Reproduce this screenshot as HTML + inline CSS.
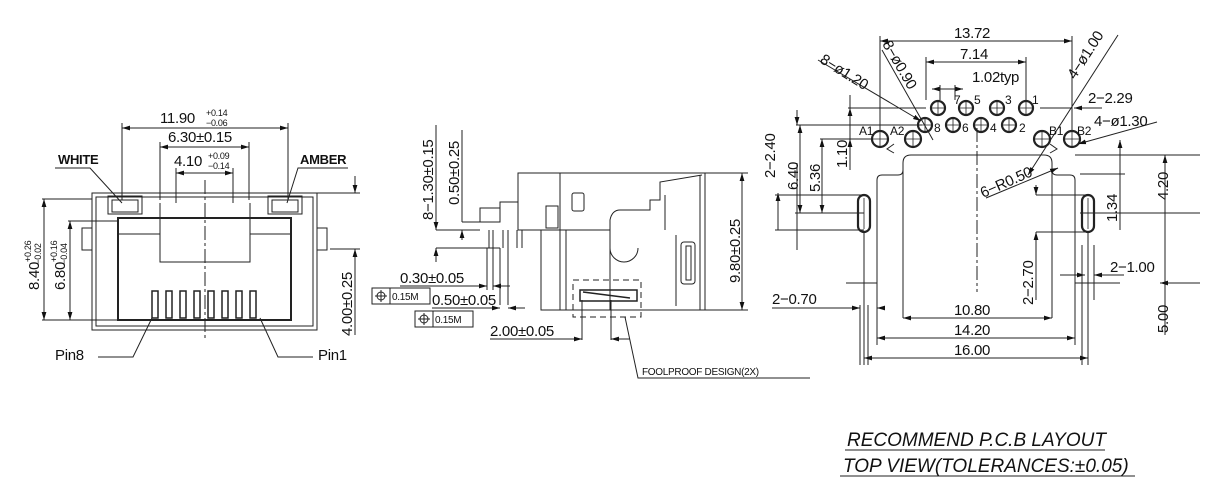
<!DOCTYPE html>
<html><head><meta charset="utf-8"><style>
html,body{margin:0;padding:0;background:#fff;}
svg{display:block;}
text{font-family:"Liberation Sans",sans-serif;fill:#111;}
</style></head><body>
<svg width="1206" height="488" viewBox="0 0 1206 488" xmlns="http://www.w3.org/2000/svg">
<defs>
<marker id="a" viewBox="0 0 10 6" refX="10" refY="3" markerWidth="8" markerHeight="5" orient="auto-start-reverse"><path d="M0,0L10,3L0,6z" fill="#111"/></marker>
</defs>
<g stroke="#222" stroke-width="1" fill="none">
<!-- ===== LEFT FRONT VIEW ===== -->
<rect x="92" y="193" width="225" height="137"/>
<rect x="96" y="197" width="217" height="129"/>
<rect x="118" y="218" width="173" height="102" stroke-width="2"/>
<rect x="108" y="196" width="34" height="18"/><rect x="112" y="200" width="26" height="12"/>
<rect x="268" y="196" width="34" height="18"/><rect x="272" y="200" width="26" height="12"/>
<path d="M160,203V262H250V203"/>
<path d="M176,193V203M233,193V203"/>
<path d="M118,234H160M250,234H291"/>
<rect x="82" y="228" width="10" height="22"/><rect x="317" y="228" width="10" height="22"/>
<g stroke-width="1.5">
<rect x="152" y="291" width="6" height="27"/><rect x="166" y="291" width="6" height="27"/>
<rect x="180" y="291" width="6" height="27"/><rect x="194" y="291" width="6" height="27"/>
<rect x="208" y="291" width="6" height="27"/><rect x="222" y="291" width="6" height="27"/>
<rect x="236" y="291" width="6" height="27"/><rect x="250" y="291" width="6" height="27"/>
</g>
<path d="M205,180V340" stroke-dasharray="14,3,3,3"/>
<path d="M122,128H288" marker-start="url(#a)" marker-end="url(#a)"/>
<path d="M122,123V200M288,123V200"/>
<path d="M160,147H249" marker-start="url(#a)" marker-end="url(#a)"/>
<path d="M160,142V200M249,142V200"/>
<path d="M176,173H233" marker-start="url(#a)" marker-end="url(#a)"/>
<path d="M176,168V193M233,168V193"/>
<path d="M55,168H90L122,203"/>
<path d="M348,168H298L287,203"/>
<path d="M42,199H92M42,320H118"/>
<path d="M44,199V320" marker-start="url(#a)" marker-end="url(#a)"/>
<path d="M68,221H118"/>
<path d="M70,221V320" marker-start="url(#a)" marker-end="url(#a)"/>
<path d="M317,193H360M330,249H360"/>
<path d="M355,176V193" marker-end="url(#a)"/>
<path d="M355,335V249" marker-end="url(#a)"/>
<path d="M98,357H133L152,318"/>
<path d="M313,357H278L260,318"/>
<!-- ===== MIDDLE SIDE VIEW ===== -->
<path d="M518,173H705V310H541V230H518Z"/>
<path d="M560,173V310M566,230V310M610,230V310"/>
<path d="M541,230H610"/>
<path d="M500,222V202H518M480,208H500V222H480Z"/>
<rect x="546" y="206" width="12" height="22"/>
<rect x="572" y="193" width="12" height="18" rx="2"/>
<path d="M610,248A14,14 0 0 0 638,248"/>
<path d="M610,230V220Q612,210 620,210H650V200H660V182L702,175M665,230V195"/>
<path d="M676,235V306M700,175V310"/>
<rect x="681" y="242" width="14" height="42" rx="3"/>
<rect x="686" y="246" width="5" height="34"/>
<path d="M489,230V248M493,230V248M503,230V248M508,230V248M517,230V248M522,230V248"/>
<path d="M580,290H637L637,301H580Z M583,292L630,298" stroke-width="1.5"/>
<rect x="573" y="280" width="68" height="37" stroke-dasharray="6,4"/>
<path d="M705,173H748M705,310H748"/>
<path d="M742,173V310" marker-start="url(#a)" marker-end="url(#a)"/>
<path d="M436,230H480M436,248H500"/>
<path d="M436,125V230" marker-end="url(#a)"/>
<path d="M436,262V248" marker-end="url(#a)"/>
<path d="M462,130V222M462,222H480"/>
<path d="M462,240V230" marker-end="url(#a)"/>
<path d="M487,248V290M493,248V290M500,248V305M508,248V305"/>
<path d="M400,286H487" marker-end="url(#a)"/>
<path d="M510,286H493" marker-end="url(#a)"/>
<path d="M432,308H500" marker-end="url(#a)"/>
<path d="M525,308H508" marker-end="url(#a)"/>
<path d="M582,300V340M611,300V340"/>
<path d="M490,339H582" marker-end="url(#a)"/>
<path d="M630,339H611" marker-end="url(#a)"/>
<path d="M625,317L638,378H810"/>
<rect x="372" y="288" width="58" height="16"/><path d="M390,288V304"/>
<rect x="415" y="311" width="58" height="16"/><path d="M433,311V327"/>
<circle cx="381" cy="296" r="4"/><path d="M381,290V302M375,296H387"/>
<circle cx="424" cy="319" r="4"/><path d="M424,313V325M418,319H430"/>
<!-- ===== RIGHT PCB LAYOUT ===== -->
<path d="M903,318V163Q903,155 911,155H1044Q1052,155 1052,163V318"/>
<path d="M877,283V180Q877,175 882,175H898Q903,175 903,170M1075,283V180Q1075,175 1070,175H1057Q1052,175 1052,170"/>
<g stroke-width="2.2">
<circle cx="938" cy="108" r="7"/><circle cx="966" cy="108" r="7"/><circle cx="997" cy="108" r="7"/><circle cx="1026" cy="108" r="7"/>
<circle cx="925" cy="125" r="7"/><circle cx="953" cy="125" r="7"/><circle cx="981" cy="125" r="7"/><circle cx="1009" cy="125" r="7"/>
<circle cx="880" cy="139" r="8"/><circle cx="913" cy="139" r="8"/><circle cx="1042" cy="139" r="8"/><circle cx="1072" cy="139" r="8"/>
<rect x="858" y="195" width="12" height="37" rx="6"/><rect x="1082" y="195" width="12" height="37" rx="6"/>
</g>
<g stroke-width="0.8">
<path d="M938,100V116M930,108H946M966,100V116M958,108H974M997,100V116M989,108H1005M1026,100V116M1018,108H1034"/>
<path d="M925,117V133M917,125H933M953,117V133M945,125H961M981,117V133M973,125H989M1009,117V133M1001,125H1017"/>
<path d="M880,130V148M871,139H889M913,130V148M904,139H922M1042,130V148M1033,139H1051M1072,130V148M1063,139H1081"/>
<path d="M864,198V229M1088,198V229"/>
</g>
<path d="M977,128V292" stroke-dasharray="14,3,3,3"/>
<path d="M880,41H1072" marker-start="url(#a)" marker-end="url(#a)"/>
<path d="M880,36V131M1072,36V131"/>
<path d="M926,62H1026" marker-start="url(#a)" marker-end="url(#a)"/>
<path d="M926,57V100M1026,57V100"/>
<path d="M932,89H963" marker-start="url(#a)" marker-end="url(#a)"/>
<path d="M940,85V100M955,85V100"/>
<path d="M1040,108H1072"/><path d="M1102,108H1074" marker-end="url(#a)"/>
<path d="M818,60L921,121" marker-end="url(#a)"/>
<path d="M882,50L933,140"/>
<path d="M1118,35L1028,175" marker-end="url(#a)"/>
<path d="M1157,122L1078,144" marker-end="url(#a)"/>
<path d="M986,198L1058,168" marker-end="url(#a)"/>
<path d="M796,125H922"/>
<path d="M797,110V125" marker-end="url(#a)"/>
<path d="M797,250V163"/>
<path d="M778,193V230" marker-start="url(#a)"/>
<path d="M775,195H864M775,230H864"/>
<path d="M800,125V213" marker-start="url(#a)" marker-end="url(#a)"/>
<path d="M795,213H864"/>
<path d="M822,139V213" marker-start="url(#a)" marker-end="url(#a)"/>
<path d="M820,139H872"/>
<path d="M850,95V170"/><path d="M848,108H926"/>
<path d="M850,120V108" marker-end="url(#a)"/>
<path d="M850,155V139" marker-end="url(#a)"/>
<path d="M1036,195H1090M1036,232H1090"/>
<path d="M1036,185V195" marker-end="url(#a)"/>
<path d="M1036,300V232" marker-end="url(#a)"/>
<path d="M1120,140V174" marker-start="url(#a)"/>
<path d="M1120,230V174"/><path d="M1080,174H1125M1080,213H1200"/>
<path d="M1165,155V283" marker-start="url(#a)"/>
<path d="M1075,155H1200"/>
<path d="M1160,283H1200M1165,283V335" marker-start="url(#a)"/>
<path d="M1060,275H1085" marker-end="url(#a)"/>
<path d="M1124,275H1094" marker-end="url(#a)"/>
<path d="M860,305V365M868,305V365M1082,245V365M1094,245V300"/>
<path d="M846,283H877M1075,283H1120"/>
<path d="M772,308H860" marker-end="url(#a)"/>
<path d="M885,308H877" marker-end="url(#a)"/>
<path d="M903,318H1052" marker-start="url(#a)" marker-end="url(#a)"/>
<path d="M877,338H1075" marker-start="url(#a)" marker-end="url(#a)"/>
<path d="M877,283V345M1075,283V345"/>
<path d="M864,358H1088" marker-start="url(#a)" marker-end="url(#a)"/>
<path d="M864,232V365M1088,232V365"/>
<path d="M894,144L887,149L894,153M1050,144L1057,149L1050,153"/>
<path d="M845,450H1105M840,476H1135"/>
</g>
<g font-size="15" letter-spacing="-0.3">
<text x="160" y="123">11.90</text><text x="206" y="116" font-size="9">+0.14</text><text x="206" y="126" font-size="9">−0.06</text>
<text x="168" y="142">6.30±0.15</text>
<text x="174" y="166">4.10</text><text x="208" y="159" font-size="9">+0.09</text><text x="208" y="169" font-size="9">−0.14</text>
<text x="58" y="164" font-family="Liberation Serif" font-size="13" font-weight="bold">WHITE</text>
<text x="300" y="164" font-family="Liberation Serif" font-size="13" font-weight="bold">AMBER</text>
<text x="55" y="360" font-family="Liberation Serif">Pin8</text>
<text x="318" y="360" font-family="Liberation Serif">Pin1</text>
<text transform="translate(39,290) rotate(-90)">8.40<tspan font-size="9" dy="-8">+0.26</tspan><tspan font-size="9" dx="-24" dy="10">−0.02</tspan></text>
<text transform="translate(65,290) rotate(-90)">6.80<tspan font-size="9" dy="-8">+0.16</tspan><tspan font-size="9" dx="-24" dy="10">−0.04</tspan></text>
<text transform="translate(352,336) rotate(-90)">4.00±0.25</text>
<text transform="translate(433,220) rotate(-90)">8−1.30±0.15</text>
<text transform="translate(459,205) rotate(-90)">0.50±0.25</text>
<text transform="translate(740,283) rotate(-90)">9.80±0.25</text>
<text x="400" y="283">0.30±0.05</text>
<text x="432" y="305">0.50±0.05</text>
<text x="490" y="336">2.00±0.05</text>
<text x="392" y="300" font-size="10">0.15M</text>
<text x="435" y="323" font-size="10">0.15M</text>
<text x="642" y="375" font-size="10" font-family="Liberation Mono">FOOLPROOF DESIGN(2X)</text>
<text x="954" y="38">13.72</text>
<text x="960" y="59">7.14</text>
<text x="972" y="82">1.02typ</text>
<text x="1088" y="103">2−2.29</text>
<text x="1094" y="126">4−ø1.30</text>
<text transform="translate(1075,80) rotate(-57)">4−ø1.00</text>
<text transform="translate(819,62) rotate(32)">8−ø1.20</text>
<text transform="translate(882,44) rotate(60)">8−ø0.90</text>
<text transform="translate(983,198) rotate(-24)">6−R0.50</text>
<text x="954" y="104" font-size="12">7</text><text x="974" y="104" font-size="12">5</text><text x="1005" y="104" font-size="12">3</text><text x="1032" y="104" font-size="12">1</text>
<text x="934" y="132" font-size="12">8</text><text x="962" y="132" font-size="12">6</text><text x="990" y="132" font-size="12">4</text><text x="1019" y="132" font-size="12">2</text>
<text x="859" y="135" font-size="12">A1</text><text x="890" y="135" font-size="12">A2</text><text x="1049" y="135" font-size="12">B1</text><text x="1077" y="135" font-size="12">B2</text>
<text transform="translate(775,178) rotate(-90)">2−2.40</text>
<text transform="translate(798,190) rotate(-90)">6.40</text>
<text transform="translate(820,192) rotate(-90)">5.36</text>
<text transform="translate(847,168) rotate(-90)">1.10</text>
<text transform="translate(1117,222) rotate(-90)">1.34</text>
<text transform="translate(1168,200) rotate(-90)">4.20</text>
<text transform="translate(1168,333) rotate(-90)">5.00</text>
<text transform="translate(1033,305) rotate(-90)">2−2.70</text>
<text x="1110" y="272">2−1.00</text>
<text x="772" y="304">2−0.70</text>
<text x="954" y="315">10.80</text>
<text x="954" y="335">14.20</text>
<text x="954" y="355">16.00</text>
</g>
<g font-size="19" font-style="italic">
<text x="847" y="446">RECOMMEND P.C.B LAYOUT</text>
<text x="843" y="472">TOP VIEW(TOLERANCES:±0.05)</text>
</g>
</svg>
</body></html>
